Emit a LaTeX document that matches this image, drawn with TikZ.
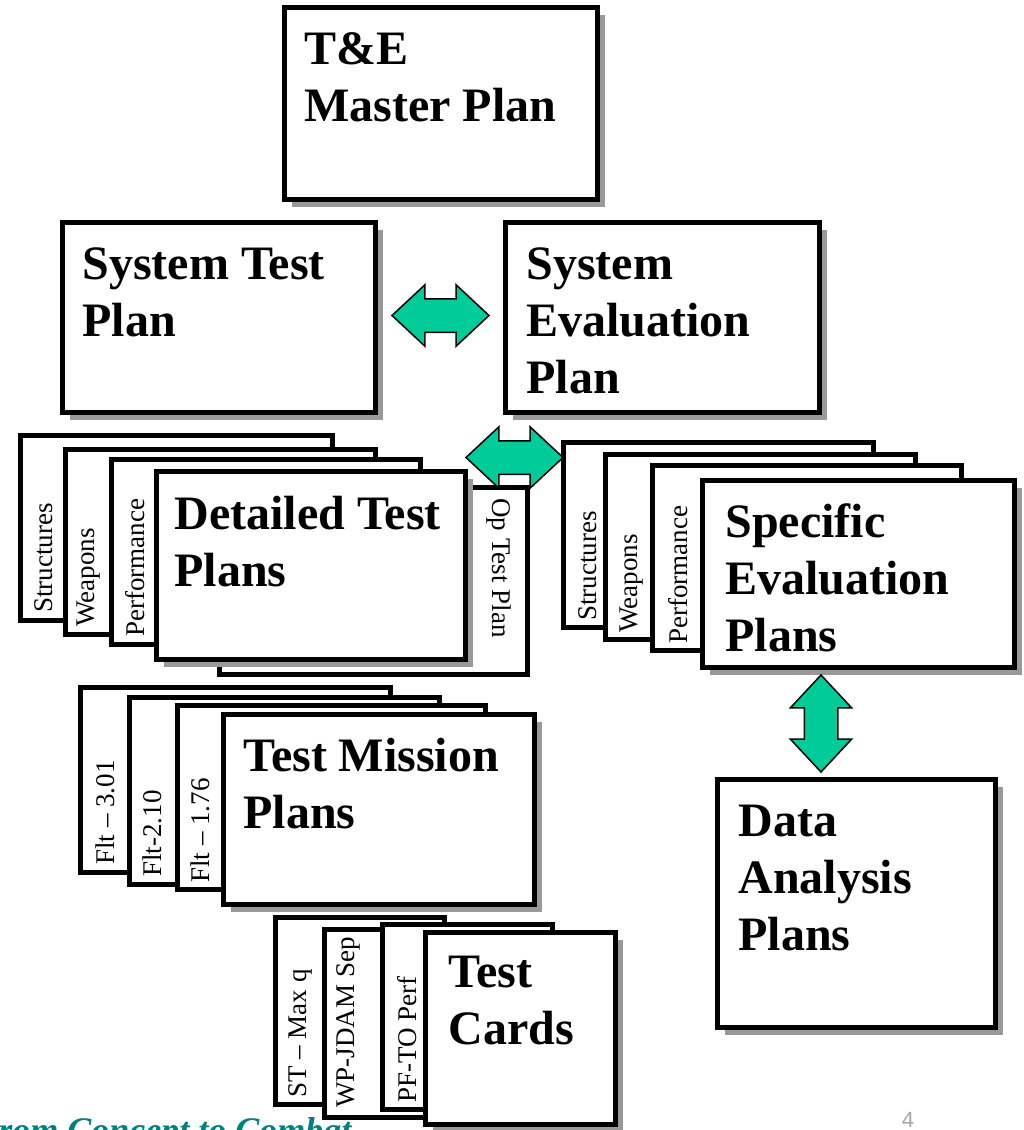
\documentclass[tikz,border=0pt]{standalone}
\usepackage{fontspec}
\setmainfont{Liberation Serif}
\newfontfamily\pagenumfont{Liberation Sans}
\usetikzlibrary{shapes.arrows,shadows}
\definecolor{arrowgreen}{RGB}{0,204,153}
\definecolor{footteal}{RGB}{0,128,128}

\begin{document}
\begin{tikzpicture}[x=0.5pt, y=-0.5pt,
    plan/.style={draw, line width=2.5pt, fill=white, anchor=north west},
    shadowed/.style={drop shadow={shadow xshift=3.5pt, shadow yshift=-3.5pt, fill=black!40, opacity=1}},
    wh/.style 2 args={minimum width=#1*0.5pt-2.5pt, minimum height=#2*0.5pt-2.5pt},
    title/.style={anchor=north west, inner sep=0pt, align=left, font=\fontsize{24pt}{28.5pt}\selectfont\bfseries},
    tab/.style={anchor=west, inner sep=0pt, rotate=#1, font=\fontsize{13.5pt}{16pt}\selectfont},
    tab/.default=90,
    twoway/.style={double arrow, draw, line width=0.75pt, fill=arrowgreen, inner xsep=0pt, inner ysep=8pt,
      double arrow head extend=7pt, double arrow tip angle=86, minimum height=48.5pt}]
  \useasboundingbox (0,0) rectangle (1023,1130);
  \clip (0,0) rectangle (1023,1130);

  % master plan
  \node[plan, shadowed, wh={318}{197}] (tem) at (282,5) {};
  \node[title] at ([shift={(22,27)}]tem.north west) {T\&E\\Master Plan};

  % system level plans
  \node[plan, shadowed, wh={318}{195}] (stp) at (60,220) {};
  \node[title] at ([shift={(22,27)}]stp.north west) {System Test\\Plan};
  \node[plan, shadowed, wh={319}{195}] (sep) at (503,220) {};
  \node[title] at ([shift={(23,27)}]sep.north west) {System\\Evaluation\\Plan};
  \path (stp.east) -- node[twoway, yshift=1pt] (a1) {} (sep.west);

  % detailed test plans
  \node[plan, wh={313}{192}] (opt) at (217,485) {};
  \node[tab=-90] at ([shift={(-31,13)}]opt.north east) {Op Test Plan};
  \node[plan, wh={317}{190}] (dst) at (18,433) {};
  \node[tab] at ([shift={(26,-10)}]dst.south west) {Structures};
  \node[plan, wh={315}{190}] (dwp) at (63,447) {};
  \node[tab] at ([shift={(26,-10)}]dwp.south west) {Weapons};
  \node[plan, wh={314}{190}] (dpf) at (109,457) {};
  \node[tab] at ([shift={(26,-10)}]dpf.south west) {Performance};
  \node[plan, shadowed, wh={314}{193}] (dtp) at (154,469) {};
  \node[title] at ([shift={(20,27)}]dtp.north west) {Detailed Test\\Plans};

  % specific evaluation plans
  \node[plan, wh={315}{190}] (est) at (561,440) {};
  \node[tab] at ([shift={(27,-9)}]est.south west) {Structures};
  \node[plan, wh={315}{190}] (ewp) at (603,452) {};
  \node[tab] at ([shift={(29,-9)}]ewp.south west) {Weapons};
  \node[plan, wh={314}{190}] (epf) at (650,463) {};
  \node[tab] at ([shift={(28,-9)}]epf.south west) {Performance};
  \node[plan, shadowed, wh={317}{192}] (sepl) at (700,478) {};
  \node[title] at ([shift={(25,25)}]sepl.north west) {Specific\\Evaluation\\Plans};
  \path (dtp.north east) -- node[twoway, yshift=-1.5pt] (a2) {} (est.north west);

  % data analysis
  \node[plan, shadowed, wh={283}{253}] (dap) at (715,777) {};
  \node[title] at ([shift={(23,28)}]dap.north west) {Data\\Analysis\\Plans};
  \path (sepl.south) -- node[twoway, xshift=-18.25pt, rotate=90] (a3) {} (dap.north);

  % test mission plans
  \node[plan, wh={315}{190}] (tf3) at (78,685) {};
  \node[tab] at ([shift={(27,-10)}]tf3.south west) {Flt – 3.01};
  \node[plan, wh={315}{192}] (tf2) at (127,695) {};
  \node[tab] at ([shift={(25,-10)}]tf2.south west) {Flt-2.10};
  \node[plan, wh={313}{189}] (tf1) at (175,703) {};
  \node[tab] at ([shift={(25,-9)}]tf1.south west) {Flt – 1.76};
  \node[plan, shadowed, wh={316}{195}] (tmp) at (221,712) {};
  \node[title] at ([shift={(22,26)}]tmp.north west) {Test Mission\\Plans};

  % test cards
  \node[plan, wh={174}{192}] (cst) at (273,915) {};
  \node[tab] at ([shift={(27,-9)}]cst.south west) {ST – Max q};
  \node[plan, wh={174}{193}] (cwp) at (322,927) {};
  \node[tab] at ([shift={(26,-12)}]cwp.south west) {WP-JDAM Sep};
  \node[plan, wh={175}{190}] (cpf) at (380,922) {};
  \node[tab] at ([shift={(27,-9)}]cpf.south west) {PF-TO Perf};
  \node[plan, shadowed, wh={195}{197}] (tcd) at (423,930) {};
  \node[title] at ([shift={(25,26)}]tcd.north west) {Test\\Cards};

  % footer
  \node[anchor=base west, inner sep=0pt, text=footteal, font=\fontsize{18pt}{20pt}\selectfont\bfseries\itshape] (foot) at (-26,1142) {From Concept to Combat};
  \node[anchor=base, inner sep=0pt, text=black!35, font=\pagenumfont\fontsize{11pt}{13pt}\selectfont] (pnum) at (908,1127) {4};
\end{tikzpicture}
\end{document}
